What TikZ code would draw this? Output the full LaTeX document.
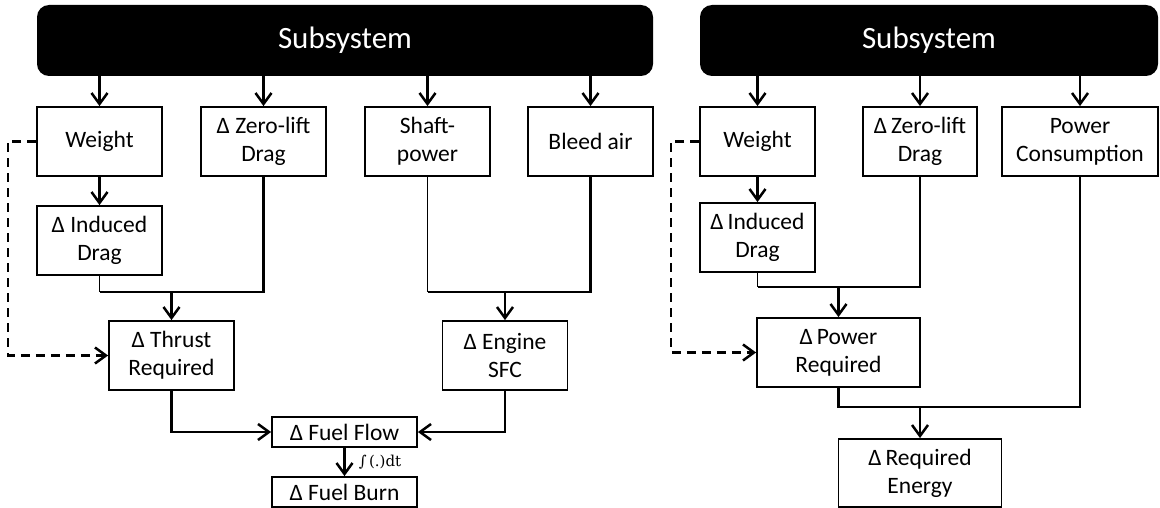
\documentclass[tikz,border=0pt]{standalone}
\usepackage[no-math]{fontspec}
\setmainfont{Carlito}
\newfontfamily\intfont{DejaVu Serif}
\usetikzlibrary{arrows.meta}
\begin{document}
\begin{tikzpicture}[x=1pt,y=-1pt,
  blk/.style={draw=black, line width=1.8pt, fill=white, align=center, inner sep=0pt,
              font=\fontsize{23.5}{28}\selectfont},
  subbar/.style={fill=black, rounded corners=12pt, text=white, inner sep=0pt,
              font=\fontsize{31}{36}\selectfont},
  link/.style={line width=2.5pt, line join=miter},
  lightlink/.style={line width=1.7pt},
  flow/.style={link, -{Straight Barb[length=11pt,width=16pt,line join=miter]}},
  feed/.style={flow, dash pattern=on 9pt off 6pt},
  intlabel/.style={font=\intfont\fontsize{15}{18}\selectfont, right=11pt, inner sep=2pt}]
\useasboundingbox (0,0) rectangle (1160,508);

% ---------------- left: fuel burn chain ----------------
\node[subbar, minimum width=616pt, minimum height=71pt] (barL) at (345,40.5) {Subsystem};

\node[blk, minimum width=125pt, minimum height=69pt] (wL)  at (99.5,141.5)  {Weight};
\node[blk, minimum width=125pt, minimum height=69pt] (zlL) at (263.5,141.5) {Δ Zero-lift\\Drag};
\node[blk, minimum width=125pt, minimum height=69pt] (shL) at (427.5,141.5) {Shaft-\\power};
\node[blk, minimum width=125pt, minimum height=69pt] (blL) at (590.5,141.5) {Bleed air};
\node[blk, minimum width=125pt, minimum height=69pt] (indL) at (99.5,240.5) {Δ Induced\\Drag};
\node[blk, minimum width=125pt, minimum height=69pt] (thrL) at (171.5,355.5) {Δ Thrust\\Required};
\node[blk, minimum width=125pt, minimum height=69pt] (sfcL) at (505,355.5)  {Δ Engine\\SFC};
\node[blk, minimum width=145pt, minimum height=30pt] (ffL) at (344.5,432) {Δ Fuel Flow};
\node[blk, minimum width=145pt, minimum height=30pt] (fbL) at (344.5,492) {Δ Fuel Burn};

\coordinate (jL) at (0,292);
\coordinate (dL) at (8,0);

\foreach \b in {wL,zlL,shL,blL}
  \draw[flow] (\b.north |- barL.south) -- (\b.north);
\draw[flow] (wL) -- (indL);

% merge of the two drag terms
\draw[link] (zlL.south) |- (indL.south |- jL);
\draw[lightlink] (indL.south) -- (indL.south |- jL);
\draw[flow] (thrL.north |- jL) -- (thrL.north);
% merge of the two engine off-takes
\draw[link] (blL.south) |- (shL.south |- jL);
\draw[lightlink] (shL.south) -- (shL.south |- jL);
\draw[flow] (sfcL.north |- jL) -- (sfcL.north);

\draw[feed] (wL.west) -- (wL.west -| dL) |- (thrL.west);

\draw[flow] (thrL.south) |- (ffL.west);
\draw[flow] (sfcL.south) |- (ffL.east);
\draw[flow] (ffL.south) -- node[intlabel] {∫\,(.)dt} (fbL.north);

% ---------------- right: energy chain ----------------
\node[subbar, minimum width=458pt, minimum height=71pt] (barR) at (929,40.5) {Subsystem};

\node[blk, minimum width=115pt, minimum height=69pt] (wR)  at (757.5,141.5) {Weight};
\node[blk, minimum width=114pt, minimum height=69pt] (zlR) at (920,141.5)   {Δ\,Zero-lift\\Drag};
\node[blk, minimum width=156pt, minimum height=69pt] (pcR) at (1080,141.5)  {Power\\Consumption};
\node[blk, minimum width=115pt, minimum height=69pt] (indR) at (757.5,237.5) {Δ\,Induced\\Drag};
\node[blk, minimum width=163pt, minimum height=69pt] (prR)  at (838.5,352.5) {Δ\,Power\\Required};
\node[blk, minimum width=163pt, minimum height=68pt] (reR)  at (920,473)     {Δ\,Required\\Energy};

\coordinate (jR1) at (0,287);
\coordinate (jR2) at (0,407);
\coordinate (dR) at (671,0);

\foreach \b in {wR,zlR,pcR}
  \draw[flow] (\b.north |- barR.south) -- (\b.north);
\draw[flow] (wR) -- (indR);

\draw[link] (zlR.south) |- (indR.south |- jR1);
\draw[lightlink] (indR.south) -- (indR.south |- jR1);
\draw[flow] (prR.north |- jR1) -- (prR.north);

\draw[feed] (wR.west) -- (wR.west -| dR) |- (prR.west);

\draw[link] (prR.south) -- (prR.south |- jR2) -| (pcR.south);
\draw[flow] (reR.north |- jR2) -- (reR.north);
\end{tikzpicture}
\end{document}
